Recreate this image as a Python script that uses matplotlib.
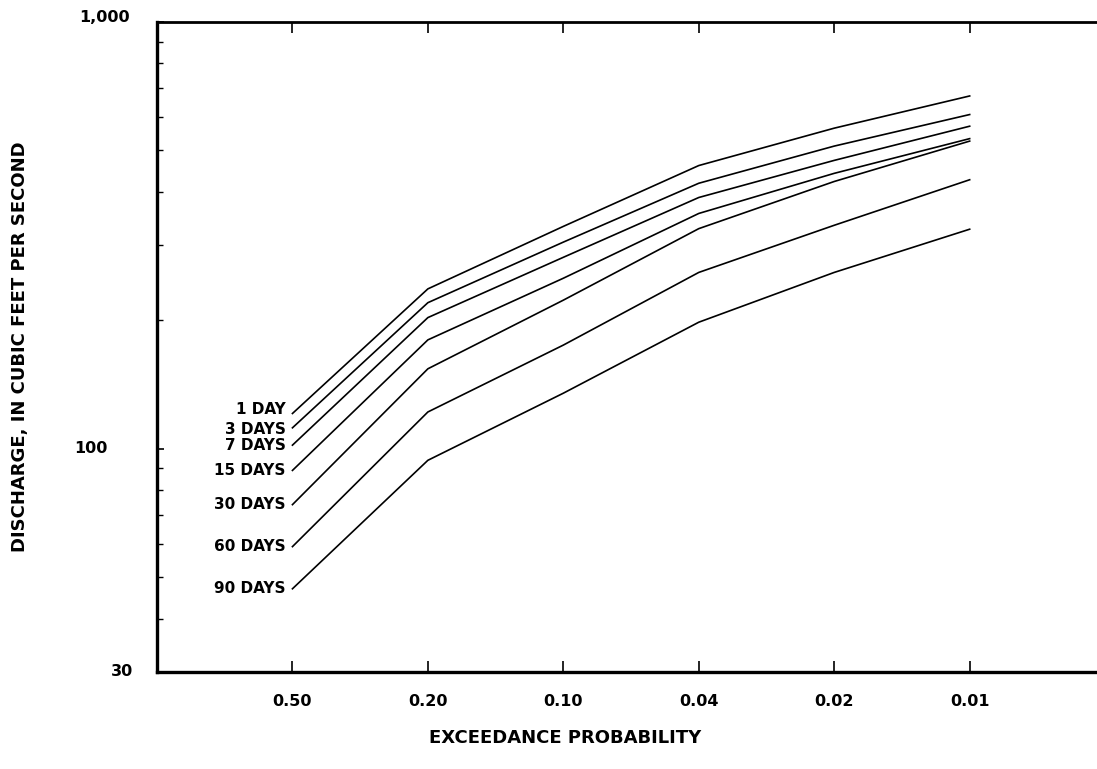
import matplotlib.pyplot as plt
from matplotlib.ticker import LogLocator, NullFormatter
import matplotlib.transforms as mtransforms

# exceedance probabilities (evenly spaced on the chart)
probabilities = ["0.50", "0.20", "0.10", "0.04", "0.02", "0.01"]

# discharge, cubic feet per second, for each duration
durations = ["1 DAY", "3 DAYS", "7 DAYS", "15 DAYS", "30 DAYS", "60 DAYS", "90 DAYS"]
q_1day = [121, 237, 332, 461, 564, 671]
q_3day = [112, 220, 305, 419, 512, 607]
q_7day = [102, 203, 281, 388, 474, 570]
q_15day = [89, 180, 251, 356, 442, 533]
q_30day = [74, 154, 223, 328, 423, 526]
q_60day = [59, 122, 175, 259, 334, 427]
q_90day = [47, 94, 135, 198, 259, 327]
series = [q_1day, q_3day, q_7day, q_15day, q_30day, q_60day, q_90day]

# small vertical nudges (points) so the stacked labels don't collide
label_nudge = [3, -1, 0, 0, 0, 0, 0]

y_ticks = [30, 100, 1000]

fig = plt.figure(figsize=(10.97, 7.69), dpi=100)
ax = fig.add_axes([157 / 1097, 1 - 672 / 769, 1 - 157 / 1097, (672 - 22) / 769])

xpos = list(range(len(probabilities)))
for name, vals, dy in zip(durations, series, label_nudge):
    ax.plot(xpos, vals, color="black", lw=1.2)
    ax.annotate(name, (xpos[0], vals[0]), xytext=(-5, dy), textcoords="offset points",
                ha="right", va="center", fontsize=11, fontweight="bold")

ax.set_yscale("log")
ax.set_ylim(30, 1000)
ax.set_xlim(-1, 5.94)

ax.set_xticks(xpos)
ax.set_xticklabels(probabilities, fontsize=11.5, fontweight="bold")
ax.tick_params(axis="x", direction="in", length=8, width=1.2, pad=16, top=True)

ax.set_yticks(y_ticks)
ax.yaxis.set_minor_locator(LogLocator(base=10, subs=range(2, 10)))
ax.yaxis.set_minor_formatter(NullFormatter())
ax.tick_params(axis="y", which="major", direction="in", length=5, width=1.2, labelleft=False)
ax.tick_params(axis="y", which="minor", direction="in", length=4, width=1.0)

# y tick labels placed to the left of the axis
trans = mtransforms.blended_transform_factory(fig.transFigure, ax.transData)
ax.text(108 / 1097, 100, "100", transform=trans, ha="right", va="center",
        fontsize=11.5, fontweight="bold")
ax.text(133 / 1097, 30, "30", transform=trans, ha="right", va="center",
        fontsize=11.5, fontweight="bold")
ax.text(130 / 1097, 1000, "1,000", transform=trans, ha="right", va="baseline",
        fontsize=11.5, fontweight="bold")

for side in ["left", "bottom"]:
    ax.spines[side].set_linewidth(2.4)
ax.spines["top"].set_linewidth(2.0)
ax.spines["right"].set_visible(False)

fig.text(565 / 1097, 1 - 738 / 769, "EXCEEDANCE PROBABILITY", ha="center", va="center",
         fontsize=13, fontweight="bold")
fig.text(20 / 1097, 1 - 347 / 769, "DISCHARGE, IN CUBIC FEET PER SECOND", ha="center",
         va="center", rotation=90, fontsize=13, fontweight="bold")

fig.savefig("out.png", dpi=100)
